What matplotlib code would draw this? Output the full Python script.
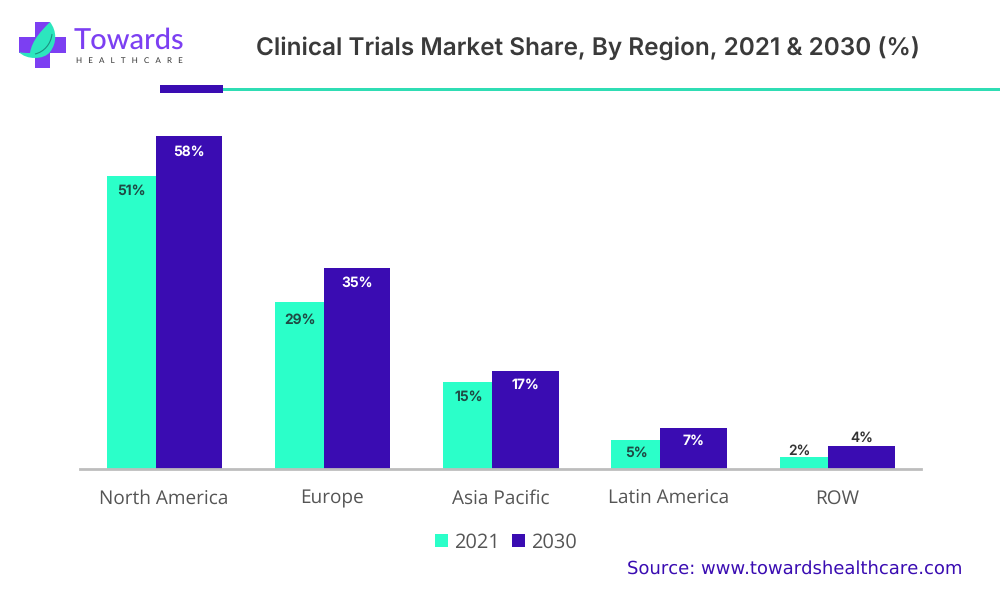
import matplotlib
matplotlib.use("Agg")
import matplotlib.pyplot as plt
from matplotlib.patches import Rectangle, PathPatch
from matplotlib.path import Path

plt.rcParams["text.hinting"] = "no_hinting"
plt.rcParams["text.hinting_factor"] = 1

regions = ["North America", "Europe", "Asia Pacific", "Latin America", "ROW"]
share_2021 = [51, 29, 15, 5, 2]
share_2030 = [58, 35, 17, 7, 4]

TEAL = "#2BFFC9"
VIOLET = "#3A0CB2"
LOGO_PURPLE = "#7C3FF2"
GREY = "#555555"

W, H = 1000, 593
fig = plt.figure(figsize=(W / 100, H / 100), dpi=100, facecolor="white")

# plot area, from the baseline pixel up to the top of the tallest bar
ax = fig.add_axes([80 / W, 1 - 468.6 / H, 841 / W, 333 / H])
w1, w2 = 0.291, 0.395
off = -0.05
xs = range(len(regions))
ax.bar([x + off - w1 / 2 for x in xs], share_2021, w1, color=TEAL, label="2021")
ax.bar([x + off + w2 / 2 for x in xs], share_2030, w2, color=VIOLET, label="2030")
ax.set_xlim(-0.5, 4.5)
ax.set_ylim(0, 58)
ax.set_yticks([])
for s in ["top", "left", "right"]:
    ax.spines[s].set_visible(False)
ax.spines["bottom"].set_color("#BDBDBD")
ax.spines["bottom"].set_linewidth(2)
ax.set_xticks(list(xs))
ax.set_xticklabels(regions, fontfamily="Open Sans", fontsize=14, color=GREY)
ax.tick_params(axis="x", length=0, pad=15)

# label offsets below the bar top, they vary a bit per group in the original
drop_2021 = [-6.5, -8, -5.5, -4.5]
drop_2030 = [-7, -6, -5.5, -4.5]
LABEL = dict(ha="center", fontsize=10, fontfamily="Inter", textcoords="offset points")
for i, (a, b) in enumerate(zip(share_2021, share_2030)):
    xa = i + off - w1 / 2
    xb = i + off + w2 / 2
    if i < 4:
        ax.annotate(f"{a}%", (xa, a), xytext=(0.5, drop_2021[i]), va="top",
                    fontweight="semibold", color="#1F4A44", **LABEL)
        ax.annotate(f"{b}%", (xb, b), xytext=(0, drop_2030[i]), va="top",
                    fontweight="semibold", color="white", **LABEL)
    else:
        # ROW bars are too short, labels sit above them
        ax.annotate(f"{a}%", (xa, a), xytext=(-3.6, -0.5), va="bottom",
                    fontweight="medium", color="#333333", **LABEL)
        ax.annotate(f"{b}%", (xb, b), xytext=(0, 0.5), va="bottom",
                    fontweight="medium", color="#333333", **LABEL)

fig.legend(loc="center", bbox_to_anchor=(505.5 / W, 1 - 542.5 / H), ncol=2, frameon=False,
           prop={"family": "Open Sans", "size": 14.5}, labelcolor=GREY,
           handlelength=0.65, handleheight=0.65, handletextpad=0.3,
           columnspacing=0.6, borderpad=0, borderaxespad=0)

# header drawn on a pixel-coordinate overlay
ov = fig.add_axes([0, 0, 1, 1], zorder=-1)
ov.set_xlim(0, W)
ov.set_ylim(H, 0)
ov.axis("off")

ov.text(588, 49, "Clinical Trials Market Share, By Region, 2021 & 2030 (%)",
        ha="center", va="center", fontsize=17.5, fontfamily="Inter",
        fontweight="semibold", color="#3A3A3A")
ov.add_patch(Rectangle((222, 87.5), 778, 3.5, color="#2FDDB4", lw=0))
ov.add_patch(Rectangle((160, 85), 63, 8, color=VIOLET, lw=0))

# logo
ov.add_patch(Rectangle((34.5, 22), 15, 46, color=LOGO_PURPLE, lw=0))
ov.add_patch(Rectangle((19, 37), 47, 15.5, color=LOGO_PURPLE, lw=0))
leaf = Path([(50, 22), (42, 30), (32, 40), (30, 53),
             (26, 53), (22, 53), (19, 52),
             (26, 60), (44, 60), (50, 52),
             (57, 43), (57, 31), (50, 22)],
            [Path.MOVETO] + [Path.CURVE4] * 12)
ov.add_patch(PathPatch(leaf, facecolor="#2CE6BE", edgecolor="none"))
vein = Path([(52, 34), (51, 44), (44, 52), (35, 54)],
            [Path.MOVETO, Path.CURVE4, Path.CURVE4, Path.CURVE4])
ov.add_patch(PathPatch(vein, facecolor="none", edgecolor="#1C8F80", lw=0.8))

ov.text(74, 41, "Towards", ha="left", va="center", fontsize=21, fontfamily="Lato",
        fontweight="medium", color=LOGO_PURPLE)
ov.text(76, 60.5, "H   E   A   L   T   H   C   A   R   E", ha="left", va="center", fontsize=6,
        fontfamily="Lato", color="#333333")

ov.text(962, 568.5, "Source: www.towardshealthcare.com", ha="right", va="center",
        fontsize=13.3, fontfamily="DejaVu Sans", color=VIOLET)

fig.savefig("out.png", dpi=100)
